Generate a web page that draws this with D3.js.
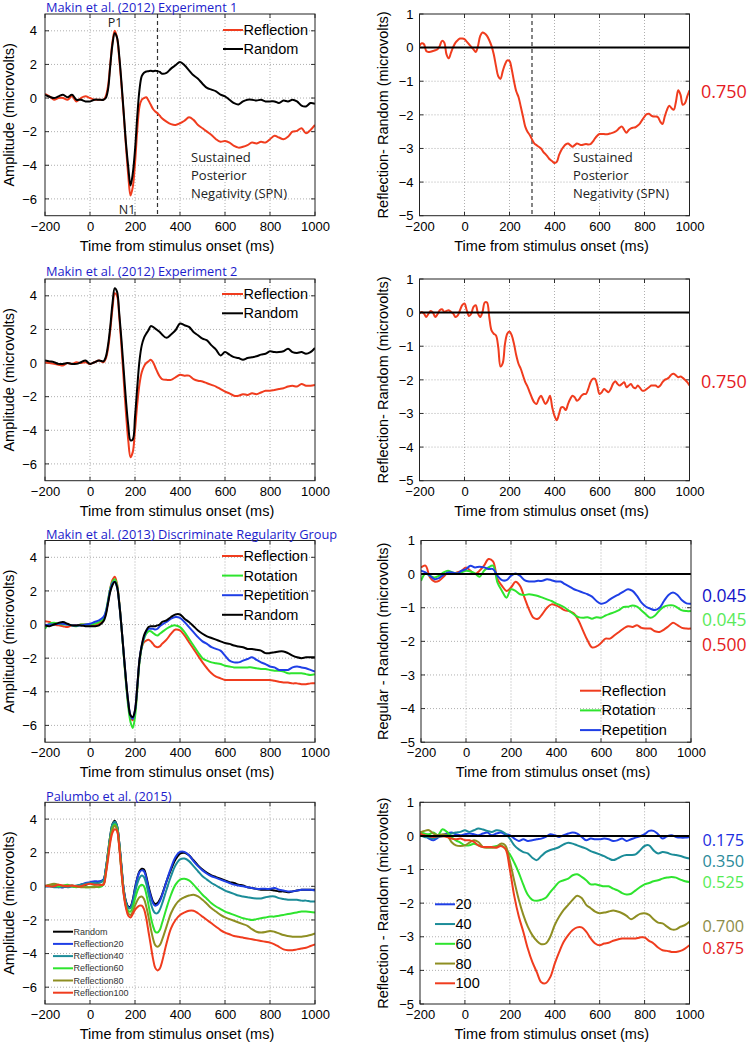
<!DOCTYPE html>
<html><head><meta charset="utf-8">
<script src="https://cdn.jsdelivr.net/npm/d3@7"></script>
<style>
body{margin:0;background:#fff;}
svg{display:block;}
</style></head>
<body>
<svg id="chart" width="752" height="1044"></svg>
<script>
// ---------- sample times (ms) ----------
const timeERP = [...d3.range(-200, 61, 20), ...d3.range(70, 321, 10), ...d3.range(340, 1001, 20)];
const timeFine = d3.range(-200, 1001, 10);
const timeCoarse = d3.range(-200, 1001, 20);

// ---------- tick values ----------
const xTicks = [-200, 0, 200, 400, 600, 800, 1000];
const yTicksAmp = [-6, -4, -2, 0, 2, 4];
const yTicksDiff = [-5, -4, -3, -2, -1, 0, 1];

// ---------- Makin et al. (2012) Experiment 1 ----------
const exp1Reflection = [
 0.25,0.1,-0.1,0,0,-0.1,0.1,-0.2,0,0.1,0,-0.1,-0.1,-0.1,
 0.1,0.7,2.0,3.35,4.0,3.6,2.35,0.75,-1.0,-2.9,-4.6,-5.8,-5.3,-3.9,-1.9,-0.5,-0.1,0,0.05,-0.15,-0.4,-0.65,-0.8,-0.9,-1.05,-1.2,
 -1.4,-1.55,-1.6,-1.5,-1.35,-1.15,-1.3,-1.6,-1.8,-2.0,-2.2,-2.45,-2.6,-2.55,-2.65,-2.85,-2.95,-2.9,-2.8,-2.65,-2.7,-2.6,-2.65,-2.45,-2.25,-2.35,-2.45,-2.3,-2.0,-1.95,-1.8,-2.1,-1.9,-1.6];
const exp1Random = [
 0.18,0.08,0,0.1,0.2,0.05,0.2,-0.1,-0.1,-0.2,-0.2,-0.1,-0.1,-0.1,
 0.0,0.5,1.9,3.2,3.85,3.6,2.5,0.9,-0.9,-2.7,-4.1,-5.2,-4.5,-3.1,-1.1,0.5,1.3,1.5,1.58,1.6,1.62,1.6,1.62,1.6,1.55,1.45,
 1.5,1.75,1.95,2.15,1.95,1.65,1.35,1.15,0.85,0.6,0.5,0.4,0.2,0.1,-0.1,-0.3,-0.38,-0.2,-0.1,-0.1,-0.15,-0.1,-0.2,-0.2,-0.2,-0.3,-0.15,-0.2,-0.1,-0.2,-0.45,-0.5,-0.3,-0.35];
const exp1Diff = [
 0.05,0.13,0.1,-0.1,-0.13,-0.12,-0.1,-0.08,-0.05,0.05,
 0.2,0.15,-0.2,-0.32,-0.15,0.02,0.15,0.22,0.27,0.27,
 0.25,0.18,0.1,0.02,-0.05,-0.13,0.05,0.35,0.45,0.42,
 0.35,0.22,0.05,-0.2,-0.55,-0.85,-0.93,-0.7,-0.5,-0.38,
 -0.4,-0.65,-1.0,-1.3,-1.47,-1.75,-2.05,-2.35,-2.5,-2.6,
 -2.73,-2.85,-2.9,-2.95,-3.0,-3.1,-3.17,-3.25,-3.33,-3.38,
 -3.43,-3.4,-3.2,-3.05,-2.95,-2.88,-2.85,-2.9,-2.95,-2.9,
 -2.85,-2.88,-2.9,-2.88,-2.87,-2.88,-2.87,-2.8,-2.7,-2.62,
 -2.57,-2.57,-2.57,-2.58,-2.57,-2.55,-2.53,-2.5,-2.45,-2.38,
 -2.35,-2.45,-2.53,-2.45,-2.4,-2.38,-2.37,-2.32,-2.25,-2.15,
 -2.05,-1.98,-1.97,-2.02,-2.05,-2.05,-2.07,-2.2,-2.27,-2.05,
 -1.85,-1.73,-1.8,-1.85,-1.6,-1.27,-1.4,-1.7,-1.65,-1.45,
 -1.27];

// ---------- Makin et al. (2012) Experiment 2 ----------
const exp2Reflection = [
 0.05,0,-0.05,-0.1,-0.15,0,-0.05,0.05,0,0.05,-0.05,0.05,0.15,0.05,
 0.25,0.85,1.95,3.25,4.15,4.0,2.75,0.95,-1.05,-3.0,-4.6,-5.6,-5.3,-4.0,-2.45,-1.25,-0.55,-0.2,0,0.1,0.2,0.05,-0.25,-0.55,-0.8,-0.95,
 -1.0,-1.0,-0.85,-0.7,-0.75,-0.75,-0.95,-1.05,-1.1,-1.2,-1.3,-1.4,-1.55,-1.7,-1.8,-1.95,-1.95,-1.85,-1.9,-1.8,-1.85,-1.75,-1.65,-1.65,-1.6,-1.55,-1.5,-1.4,-1.35,-1.4,-1.25,-1.35,-1.35,-1.3];
const exp2Random = [
 0.15,0.1,0.05,-0.05,-0.05,0,-0.05,-0.05,0.05,0.15,-0.05,0.05,0.15,0.1,
 0.35,1.05,2.15,3.55,4.45,4.25,2.95,1.35,-0.45,-2.25,-3.7,-4.6,-4.55,-3.2,-1.45,0.15,1.05,1.5,1.75,1.95,2.2,2.15,2.05,1.95,1.85,1.7,
 1.5,1.7,1.95,2.35,2.25,2.15,1.85,1.65,1.45,1.35,1.05,0.8,0.45,0.65,0.5,0.35,0.3,0.2,0.3,0.35,0.4,0.5,0.55,0.7,0.65,0.65,0.7,0.85,0.65,0.6,0.65,0.55,0.65,0.9];
const exp2Diff = [
 -0.03,0.02,-0.03,-0.13,-0.03,0.05,0,-0.13,-0.05,0.07,
 0.1,0.02,0.05,0.07,0.02,-0.03,-0.13,-0.08,0.07,0.22,
 0.27,0.07,-0.1,-0.03,0.17,0.22,-0.03,-0.13,0.02,0.3,
 0.3,-0.13,-0.53,-0.63,-0.68,-1.03,-1.6,-1.5,-0.93,-0.63,
 -0.56,-0.68,-0.93,-1.27,-1.52,-1.67,-1.87,-2.07,-2.2,-2.37,
 -2.54,-2.67,-2.72,-2.57,-2.47,-2.6,-2.72,-2.62,-2.47,-2.82,
 -3.07,-3.2,-3.02,-2.82,-2.82,-2.9,-2.72,-2.57,-2.47,-2.52,
 -2.62,-2.57,-2.47,-2.42,-2.42,-2.27,-2.07,-1.97,-1.97,-2.17,
 -2.42,-2.37,-2.27,-2.32,-2.37,-2.27,-2.12,-2.04,-2.12,-2.17,
 -2.12,-2.07,-2.22,-2.17,-2.12,-2.22,-2.25,-2.17,-2.24,-2.32,
 -2.32,-2.27,-2.22,-2.17,-2.17,-2.17,-2.22,-2.17,-2.07,-2.0,
 -1.97,-1.92,-1.84,-1.82,-1.87,-1.92,-1.9,-1.94,-2.0,-2.07,
 -2.17];

// ---------- Makin et al. (2013) Discriminate Regularity Group ----------
const m13Reflection = [
 0.2,0.15,0,-0.05,-0.1,-0.15,-0.05,-0.05,0,0,0,-0.05,0.05,0.3,
 0.65,1.35,2.15,2.65,2.85,2.45,1.35,-0.15,-1.75,-3.4,-4.7,-5.5,-5.7,-5.2,-3.8,-2.15,-1.35,-1.05,-0.95,-0.9,-1.0,-1.15,-1.3,-1.35,-1.3,-1.15,
 -0.9,-0.55,-0.3,-0.35,-0.65,-1.05,-1.45,-1.85,-2.25,-2.6,-2.9,-3.1,-3.2,-3.3,-3.3,-3.3,-3.3,-3.3,-3.3,-3.3,-3.3,-3.3,-3.3,-3.3,-3.35,-3.4,-3.45,-3.45,-3.5,-3.5,-3.55,-3.55,-3.5,-3.5];
const m13Rotation = [
 -0.25,0.05,0.1,0.05,0,0,-0.05,-0.1,0,0,0,0.05,0.15,0.35,
 0.75,1.45,2.15,2.55,2.7,2.35,1.3,-0.15,-1.85,-3.5,-4.9,-5.8,-6.15,-5.5,-3.9,-2.25,-1.35,-0.85,-0.55,-0.4,-0.4,-0.5,-0.6,-0.65,-0.55,-0.45,
 -0.25,-0.1,-0.05,-0.15,-0.45,-0.85,-1.25,-1.65,-2.0,-2.15,-2.25,-2.3,-2.35,-2.45,-2.5,-2.55,-2.55,-2.55,-2.55,-2.55,-2.6,-2.65,-2.65,-2.7,-2.75,-2.75,-2.8,-2.9,-2.9,-2.9,-2.9,-2.95,-3.0,-2.95];
const m13Repetition = [
 -0.05,0,0,0.05,0.05,0,-0.05,-0.05,-0.05,0,0.05,0.15,0.25,0.45,
 0.75,1.35,2.05,2.45,2.55,2.25,1.25,-0.15,-1.75,-3.3,-4.6,-5.4,-5.6,-5.1,-3.7,-2.1,-1.25,-0.75,-0.4,-0.25,-0.25,-0.25,-0.3,-0.25,-0.1,0,
 0.15,0.35,0.45,0.4,0.15,-0.15,-0.45,-0.75,-1.0,-1.15,-1.35,-1.45,-1.55,-1.85,-2.15,-2.25,-2.25,-2.15,-2.05,-1.95,-2.1,-2.25,-2.35,-2.5,-2.55,-2.7,-2.7,-2.7,-2.55,-2.5,-2.55,-2.6,-2.7,-2.8];
const m13Random = [
 -0.05,-0.1,0,0.1,0.15,0.05,-0.05,-0.05,-0.05,-0.1,-0.1,-0.1,-0.05,0.2,
 0.55,1.25,1.95,2.35,2.55,2.25,1.25,-0.15,-1.75,-3.3,-4.6,-5.4,-5.5,-5.1,-3.7,-2.1,-1.25,-0.65,-0.35,-0.15,-0.1,-0.1,-0.1,-0.05,0,0.15,
 0.25,0.45,0.6,0.6,0.35,0.15,-0.1,-0.35,-0.55,-0.7,-0.8,-0.9,-1.0,-1.1,-1.15,-1.25,-1.3,-1.35,-1.45,-1.45,-1.5,-1.55,-1.7,-1.7,-1.65,-1.6,-1.6,-1.7,-1.85,-1.95,-2.0,-1.95,-1.95,-1.95];
const m13DiffReflection = [
 0.2,0.25,-0.1,-0.22,-0.2,-0.08,0.05,0,0.05,0.1,
 0.2,0.1,0,0.1,0.25,0.45,0.38,-0.15,-0.35,-0.5,
 -0.4,-0.23,-0.35,-0.7,-1.05,-1.3,-1.33,-1.18,-1.0,-0.9,
 -0.93,-1.0,-1.08,-1.1,-1.17,-1.38,-1.68,-1.97,-2.18,-2.15,
 -2.05,-1.92,-1.92,-1.82,-1.72,-1.62,-1.55,-1.57,-1.52,-1.6,
 -1.62,-1.62,-1.7,-1.72,-1.65,-1.55,-1.45,-1.52,-1.6,-1.62,
 -1.62];
const m13DiffRotation = [
 -0.2,0.02,-0.05,-0.1,-0.05,0.05,0.1,0.05,0.02,0.05,
 0.1,0.08,0.02,-0.08,0.1,0.2,0.25,-0.25,-0.5,-0.7,
 -0.45,-0.5,-0.6,-0.62,-0.6,-0.62,-0.65,-0.7,-0.75,-0.8,
 -0.87,-0.93,-1.0,-1.1,-1.2,-1.28,-1.3,-1.28,-1.33,-1.28,
 -1.3,-1.23,-1.18,-1.13,-1.07,-0.98,-0.97,-0.93,-0.97,-1.08,
 -1.2,-1.3,-1.23,-1.08,-0.97,-0.93,-0.93,-1.0,-1.08,-1.1,
 -1.1];
const m13DiffRepetition = [
 0.1,0.05,-0.05,-0.15,-0.12,-0.02,0.05,0.05,0.02,0.1,
 0.15,0.25,0.2,0.22,0.2,0.15,0.15,-0.05,-0.18,-0.18,
 -0.05,0.02,-0.05,-0.18,-0.22,-0.22,-0.2,-0.2,-0.15,-0.18,
 -0.22,-0.22,-0.3,-0.37,-0.45,-0.5,-0.55,-0.6,-0.67,-0.8,
 -0.88,-0.85,-0.75,-0.67,-0.6,-0.52,-0.45,-0.5,-0.65,-0.85,
 -0.97,-1.03,-1.07,-1.0,-0.8,-0.62,-0.55,-0.62,-0.78,-0.87,
 -0.88];

// ---------- Palumbo et al. (2015) ----------
const palRandom = [
 0,0.05,0.05,0,-0.05,0,0,0,0.1,0.1,0.2,0.25,0.25,0.4,
 1.0,2.0,3.0,3.7,3.9,3.6,2.6,1.2,-0.2,-0.9,-1.2,-1.2,-0.8,-0.1,0.5,0.9,1.05,1.0,0.6,0.0,-0.5,-0.9,-1.05,-1.0,-0.8,-0.5,
 0.3,1.0,1.6,1.95,2.0,1.85,1.55,1.25,1.0,0.8,0.65,0.55,0.45,0.35,0.25,0.2,0.1,0.05,-0.05,-0.1,-0.15,-0.2,-0.2,-0.2,-0.25,-0.3,-0.3,-0.35,-0.3,-0.25,-0.2,-0.2,-0.2,-0.2];
const palRefl20 = [
 0,0,0.05,-0.05,-0.05,0,0.05,0,0.1,0.2,0.25,0.3,0.3,0.4,
 1.0,1.9,2.9,3.6,3.8,3.55,2.5,1.1,-0.2,-0.95,-1.25,-1.25,-0.85,-0.15,0.45,0.85,0.95,0.9,0.5,-0.1,-0.6,-1.0,-1.15,-1.1,-0.9,-0.55,
 0.3,1.1,1.75,2.05,2.05,1.85,1.5,1.2,0.95,0.75,0.6,0.5,0.4,0.3,0.2,0.1,0.05,0,-0.05,-0.1,-0.15,-0.15,-0.15,-0.15,-0.1,-0.2,-0.25,-0.3,-0.3,-0.25,-0.2,-0.2,-0.2,-0.25];
const palRefl40 = [
 0,0,-0.05,-0.05,0,-0.05,0,0.05,0.1,0.15,0.2,0.2,0.2,0.35,
 1.0,2.0,3.0,3.7,3.85,3.6,2.6,1.1,-0.3,-1.0,-1.3,-1.3,-1.0,-0.4,0.15,0.5,0.65,0.55,0.15,-0.45,-1.0,-1.4,-1.6,-1.6,-1.4,-1.05,
 -0.2,0.6,1.25,1.6,1.65,1.5,1.2,0.9,0.6,0.4,0.2,0.05,-0.1,-0.25,-0.35,-0.45,-0.55,-0.6,-0.65,-0.7,-0.72,-0.72,-0.65,-0.6,-0.6,-0.7,-0.75,-0.8,-0.8,-0.8,-0.85,-0.85,-0.9,-0.9];
const palRefl60 = [
 0,0.05,0.1,0,0.05,0.1,0,-0.05,0,-0.05,-0.05,0,-0.05,0.1,
 0.8,1.8,2.8,3.5,3.7,3.45,2.4,0.9,-0.4,-1.15,-1.45,-1.5,-1.25,-0.75,-0.3,0.0,0.1,0.0,-0.45,-1.1,-1.8,-2.35,-2.7,-2.75,-2.6,-2.2,
 -1.3,-0.5,0.1,0.4,0.45,0.35,0.1,-0.2,-0.5,-0.75,-1.0,-1.2,-1.35,-1.5,-1.6,-1.7,-1.8,-1.9,-1.95,-2.0,-1.95,-1.9,-1.85,-1.8,-1.8,-1.75,-1.7,-1.65,-1.6,-1.55,-1.5,-1.5,-1.52,-1.55];
const palRefl80 = [
 0,0.1,0.15,0.1,0,0.05,0.05,0,-0.05,-0.05,-0.05,-0.05,0,0.15,
 0.8,1.8,2.8,3.4,3.6,3.4,2.4,0.9,-0.4,-1.2,-1.6,-1.7,-1.5,-1.15,-0.85,-0.65,-0.6,-0.75,-1.2,-1.8,-2.5,-3.1,-3.5,-3.6,-3.5,-3.2,
 -2.4,-1.6,-1.1,-0.8,-0.65,-0.55,-0.5,-0.6,-0.8,-1.05,-1.3,-1.5,-1.7,-1.85,-1.95,-2.05,-2.15,-2.25,-2.35,-2.55,-2.7,-2.75,-2.72,-2.65,-2.7,-2.8,-2.9,-2.95,-3.0,-3.0,-3.0,-2.95,-2.9,-2.8];
const palRefl100 = [
 0.05,0,0,0.1,0.05,0,0.05,0,0,0.1,0.15,0.1,0.1,0.1,
 0.7,1.6,2.6,3.2,3.4,3.3,2.3,0.8,-0.5,-1.3,-1.75,-1.85,-1.65,-1.4,-1.25,-1.15,-1.15,-1.35,-1.9,-2.7,-3.5,-4.3,-4.85,-5.0,-4.9,-4.5,
 -3.4,-2.5,-2.0,-1.7,-1.55,-1.45,-1.45,-1.6,-1.8,-2.0,-2.2,-2.4,-2.6,-2.75,-2.85,-2.95,-3.0,-3.05,-3.1,-3.15,-3.2,-3.25,-3.3,-3.35,-3.45,-3.6,-3.75,-3.8,-3.8,-3.75,-3.7,-3.65,-3.55,-3.45];
const palDiff20 = [
 0.07,0.02,-0.08,-0.13,-0.05,0.02,0.07,0.1,0.05,0.02,
 0.05,0.07,0.05,0.02,0.07,0.1,0.02,0.07,0.1,0.05,
 0.02,-0.08,-0.15,-0.1,-0.15,-0.13,-0.1,-0.08,-0.03,0.05,
 0.02,-0.03,0.02,0.07,0.1,0.07,-0.03,-0.13,-0.08,-0.1,
 -0.1,-0.08,-0.1,-0.15,-0.13,-0.08,-0.15,-0.1,-0.05,-0.01,
 0.05,0.15,0.15,0.05,-0.08,-0.01,0.02,-0.03,-0.05,-0.05,
 -0.03];
const palDiff40 = [
 0.02,-0.03,-0.05,-0.08,-0.03,-0.01,0.02,0.07,0.1,0.12,
 0.17,0.12,0.17,0.22,0.19,0.15,0.12,0.17,0.15,0.07,
 -0.08,-0.28,-0.4,-0.48,-0.52,-0.65,-0.72,-0.6,-0.48,-0.42,
 -0.38,-0.33,-0.25,-0.2,-0.23,-0.28,-0.33,-0.38,-0.45,-0.5,
 -0.55,-0.6,-0.67,-0.72,-0.67,-0.6,-0.57,-0.57,-0.55,-0.43,
 -0.3,-0.28,-0.43,-0.52,-0.48,-0.5,-0.55,-0.57,-0.6,-0.64,
 -0.67];
const palDiff60 = [
 0.12,0.07,0.05,0.1,0.02,0.2,0.12,-0.03,-0.13,-0.2,
 -0.28,-0.28,-0.23,-0.28,-0.33,-0.33,-0.33,-0.3,-0.28,-0.38,
 -0.55,-0.8,-1.1,-1.45,-1.75,-1.9,-1.93,-1.9,-1.84,-1.67,
 -1.52,-1.37,-1.32,-1.27,-1.17,-1.14,-1.22,-1.32,-1.44,-1.44,
 -1.47,-1.5,-1.5,-1.57,-1.62,-1.7,-1.74,-1.72,-1.62,-1.52,
 -1.44,-1.4,-1.35,-1.32,-1.27,-1.24,-1.22,-1.24,-1.3,-1.35,
 -1.37];
const palDiff80 = [
 0.1,0.15,0.17,0.07,0.02,0.05,0.02,-0.18,-0.28,-0.3,
 -0.28,-0.2,-0.13,-0.18,-0.33,-0.35,-0.35,-0.33,-0.23,-0.28,
 -0.75,-1.35,-1.9,-2.35,-2.7,-2.95,-3.12,-3.22,-3.2,-3.0,
 -2.65,-2.4,-2.2,-2.05,-1.9,-1.78,-1.85,-2.05,-2.15,-2.25,
 -2.3,-2.28,-2.25,-2.22,-2.25,-2.3,-2.38,-2.48,-2.4,-2.32,
 -2.3,-2.35,-2.48,-2.58,-2.6,-2.7,-2.78,-2.78,-2.7,-2.65,
 -2.55];
const palDiff100 = [
 0.07,0.02,-0.01,-0.03,-0.01,-0.01,-0.03,-0.08,-0.1,-0.08,
 -0.13,-0.13,-0.18,-0.28,-0.33,-0.33,-0.33,-0.35,-0.3,-0.38,
 -1.0,-1.8,-2.4,-2.85,-3.35,-3.75,-4.05,-4.35,-4.38,-4.2,
 -3.8,-3.45,-3.15,-2.95,-2.8,-2.72,-2.72,-2.85,-3.05,-3.2,
 -3.25,-3.2,-3.18,-3.12,-3.08,-3.05,-3.05,-3.05,-3.05,-3.02,
 -3.02,-3.12,-3.2,-3.32,-3.4,-3.42,-3.45,-3.45,-3.42,-3.35,
 -3.25];

// ---------- labels ----------
const titles = ["Makin et al. (2012) Experiment 1", "Makin et al. (2012) Experiment 2",
                "Makin et al. (2013) Discriminate Regularity Group", "Palumbo et al. (2015)"];
const m13Names = ["Reflection", "Rotation", "Repetition", "Random"];
const palNames = ["Random", "Reflection20", "Reflection40", "Reflection60", "Reflection80", "Reflection100"];
const palDiffNames = ["20", "40", "60", "80", "100"];
const exp1Effect = ["0.750"];
const exp2Effect = ["0.750"];
const m13Effects = ["0.045", "0.045", "0.500"];
const palEffects = ["0.175", "0.350", "0.525", "0.700", "0.875"];
const spnLines = ["Sustained", "Posterior", "Negativity (SPN)"];

// ---------- styles ----------
const RED = "#f03c1e", BLACK = "#000", GREEN = "#2ee42e", BLUE = "#1f3fe6",
      TEAL = "#1b8c98", OLIVE = "#8e8e22";
const FONT = "'Liberation Sans', Arial, sans-serif";
const FONT2 = "'Open Sans', 'Noto Sans', sans-serif";
const fmt = d3.format("d");

const svg = d3.select("#chart");
svg.append("rect").attr("width", 752).attr("height", 1044).attr("fill", "#fff");

let clipId = 0;
function panel(o) {
  const x = d3.scaleLinear().domain([-200, 1000]).range([o.left, o.right]);
  const y = d3.scaleLinear().domain(o.yDomain).range([o.bottom, o.top]);
  const g = svg.append("g");
  // grid
  g.selectAll(null).data(xTicks.slice(1, -1)).join("line")
    .attr("x1", d => x(d)).attr("x2", d => x(d)).attr("y1", o.top).attr("y2", o.bottom)
    .attr("stroke", "#9a9a9a").attr("stroke-width", 0.8).attr("stroke-dasharray", "1,2");
  g.selectAll(null).data(o.yTicks.filter(v => v > o.yDomain[0] && v < o.yDomain[1])).join("line")
    .attr("x1", o.left).attr("x2", o.right).attr("y1", d => y(d)).attr("y2", d => y(d))
    .attr("stroke", "#9a9a9a").attr("stroke-width", 0.8).attr("stroke-dasharray", "1,2");

  // axes (labels)
  const xa = g.append("g").attr("transform", `translate(0,${o.bottom})`)
    .call(d3.axisBottom(x).tickValues(xTicks).tickFormat(fmt).tickSize(0).tickPadding(6));
  xa.select(".domain").remove();
  xa.selectAll("text").attr("font-family", FONT).attr("font-size", 13).attr("fill", "#000")
    .attr("dy", "0.71em");
  const ya = g.append("g").attr("transform", `translate(${o.left},0)`)
    .call(d3.axisLeft(y).tickValues(o.yTicks).tickFormat(fmt).tickSize(0).tickPadding(o.ytPad));
  ya.select(".domain").remove();
  ya.selectAll("text").attr("font-family", FONT).attr("font-size", 13).attr("fill", "#000");

  // inner tick marks on all sides
  const tk = 4;
  g.selectAll(null).data(xTicks).join("line")
    .attr("x1", d => x(d)).attr("x2", d => x(d)).attr("y1", o.bottom).attr("y2", o.bottom - tk)
    .attr("stroke", "#000").attr("stroke-width", 0.8);
  g.selectAll(null).data(xTicks).join("line")
    .attr("x1", d => x(d)).attr("x2", d => x(d)).attr("y1", o.top).attr("y2", o.top + tk)
    .attr("stroke", "#000").attr("stroke-width", 0.8);
  g.selectAll(null).data(o.yTicks).join("line")
    .attr("x1", o.left).attr("x2", o.left + tk).attr("y1", d => y(d)).attr("y2", d => y(d))
    .attr("stroke", "#000").attr("stroke-width", 0.8);
  g.selectAll(null).data(o.yTicks).join("line")
    .attr("x1", o.right).attr("x2", o.right - tk).attr("y1", d => y(d)).attr("y2", d => y(d))
    .attr("stroke", "#000").attr("stroke-width", 0.8);

  // clip
  const cid = "clip" + (clipId++);
  svg.append("clipPath").attr("id", cid).append("rect")
    .attr("x", o.left).attr("y", o.top).attr("width", o.right - o.left).attr("height", o.bottom - o.top);
  const plot = g.append("g").attr("clip-path", `url(#${cid})`);

  if (o.dashed != null) {
    plot.append("line").attr("x1", x(o.dashed)).attr("x2", x(o.dashed))
      .attr("y1", o.top).attr("y2", o.bottom)
      .attr("stroke", "#333").attr("stroke-width", 1.2).attr("stroke-dasharray", "4,3");
  }

  o.series.forEach(s => {
    const line = d3.line()
      .x((d, i) => x(s.t[i])).y(d => y(d))
      .curve(d3.curveCatmullRom.alpha(0.5));
    plot.append("path").attr("d", line(s.v)).attr("fill", "none")
      .attr("stroke", s.c).attr("stroke-width", 2).attr("stroke-linejoin", "round");
  });

  if (o.zeroLine) {
    plot.append("line").attr("x1", o.left).attr("x2", o.right)
      .attr("y1", y(0)).attr("y2", y(0)).attr("stroke", "#000").attr("stroke-width", 2);
  }

  // box
  g.append("rect").attr("x", o.left).attr("y", o.top)
    .attr("width", o.right - o.left).attr("height", o.bottom - o.top)
    .attr("fill", "none").attr("stroke", "#222").attr("stroke-width", 1);

  // axis titles
  g.append("text").attr("x", (o.left + o.right) / 2 - 3).attr("y", o.bottom + 35)
    .attr("text-anchor", "middle").attr("font-family", FONT).attr("font-size", 14.5)
    .text("Time from stimulus onset (ms)");
  g.append("text")
    .attr("transform", `translate(${o.ylabX},${(o.top + o.bottom) / 2}) rotate(-90)`)
    .attr("text-anchor", "middle").attr("dominant-baseline", "central")
    .attr("font-family", FONT).attr("font-size", 14.5).text(o.ylab);

  if (o.title) {
    g.append("text").attr("x", o.left + 1).attr("y", o.titleY)
      .attr("font-family", FONT2).attr("font-size", 12.8).attr("fill", "#1c1ccc").text(o.title);
  }

  // legend
  if (o.legend) {
    const L = o.legend;
    L.items.forEach((it, i) => {
      const yy = L.y0 + i * L.dy;
      g.append("line").attr("x1", L.x0).attr("x2", L.x1).attr("y1", yy).attr("y2", yy)
        .attr("stroke", it.c).attr("stroke-width", 2);
      g.append("text").attr("x", L.x1 + 0.5).attr("y", yy).attr("dominant-baseline", "central")
        .attr("font-family", FONT).attr("font-size", L.fs).attr("fill", L.tc || "#000").text(it.n);
    });
  }
  return {x, y, g};
}

const rowTop = [14, 279, 540.5, 802.3];
const rowH = 201.7;
const titleY = [11.5, 276, 538.5, 800.5];
const LX = [45, 315];
const RX = [[419.5, 689.5], [419.5, 689.5], [421, 691], [420, 689.5]];

// Row 1 left
let p = panel({left: LX[0], right: LX[1], top: rowTop[0], bottom: rowTop[0] + rowH,
  yDomain: [-7, 5], yTicks: yTicksAmp, ytPad: 8, ylabX: 8.5, ylab: "Amplitude (microvolts)",
  title: titles[0], titleY: titleY[0], dashed: 300,
  series: [{t: timeERP, v: exp1Reflection, c: RED}, {t: timeERP, v: exp1Random, c: BLACK}],
  legend: {x0: 223, x1: 243, y0: 30, dy: 19, fs: 14.5,
    items: [{n: "Reflection", c: RED}, {n: "Random", c: BLACK}]}});
p.g.append("text").attr("x", 115).attr("y", 26.5).attr("text-anchor", "middle")
  .attr("font-family", FONT2).attr("font-size", 12.5).attr("fill", "#222").text("P1");
p.g.append("text").attr("x", 127).attr("y", 213.5).attr("text-anchor", "middle")
  .attr("font-family", FONT2).attr("font-size", 12.5).attr("fill", "#222").text("N1");
spnLines.forEach((s, i) => p.g.append("text").attr("x", 191).attr("y", 161.5 + i * 18)
  .attr("font-family", FONT2).attr("font-size", 13).attr("fill", "#222").text(s));

// Row 1 right
p = panel({left: RX[0][0], right: RX[0][1], top: rowTop[0], bottom: rowTop[0] + rowH,
  yDomain: [-5, 1], yTicks: yTicksDiff, ytPad: 6, ylabX: 383, ylab: "Reflection- Random (microvolts)",
  dashed: 300, zeroLine: true,
  series: [{t: timeFine, v: exp1Diff, c: RED}]});
spnLines.forEach((s, i) => p.g.append("text").attr("x", 573).attr("y", 161.5 + i * 18)
  .attr("font-family", FONT2).attr("font-size", 13).attr("fill", "#222").text(s));
p.g.selectAll(null).data(exp1Effect).join("text").attr("x", 701).attr("y", 98)
  .attr("font-family", FONT2).attr("font-size", 18).attr("fill", "#e51a24").text(d => d);

// Row 2 left
panel({left: LX[0], right: LX[1], top: rowTop[1], bottom: rowTop[1] + rowH,
  yDomain: [-7, 5], yTicks: yTicksAmp, ytPad: 8, ylabX: 8.5, ylab: "Amplitude (microvolts)",
  title: titles[1], titleY: titleY[1],
  series: [{t: timeERP, v: exp2Reflection, c: RED}, {t: timeERP, v: exp2Random, c: BLACK}],
  legend: {x0: 222, x1: 243, y0: 294, dy: 19.3, fs: 14.5,
    items: [{n: "Reflection", c: RED}, {n: "Random", c: BLACK}]}});

// Row 2 right
p = panel({left: RX[1][0], right: RX[1][1], top: rowTop[1], bottom: rowTop[1] + rowH,
  yDomain: [-5, 1], yTicks: yTicksDiff, ytPad: 6, ylabX: 383, ylab: "Reflection- Random (microvolts)",
  zeroLine: true,
  series: [{t: timeFine, v: exp2Diff, c: RED}]});
p.g.selectAll(null).data(exp2Effect).join("text").attr("x", 701).attr("y", 388)
  .attr("font-family", FONT2).attr("font-size", 18).attr("fill", "#e51a24").text(d => d);

// Row 3 left
const m13Colors = [RED, GREEN, BLUE, BLACK];
panel({left: LX[0], right: LX[1], top: rowTop[2], bottom: rowTop[2] + rowH,
  yDomain: [-7, 5], yTicks: yTicksAmp, ytPad: 8, ylabX: 8.5, ylab: "Amplitude (microvolts)",
  title: titles[2], titleY: titleY[2],
  series: [m13Reflection, m13Rotation, m13Repetition, m13Random].map((v, i) => ({t: timeERP, v, c: m13Colors[i]})),
  legend: {x0: 222, x1: 243, y0: 556, dy: 19.6, fs: 14.5,
    items: m13Names.map((n, i) => ({n, c: m13Colors[i]}))}});

// Row 3 right
p = panel({left: RX[2][0], right: RX[2][1], top: rowTop[2], bottom: rowTop[2] + rowH,
  yDomain: [-5, 1], yTicks: yTicksDiff, ytPad: 6, ylabX: 383, ylab: "Regular - Random (microvolts)",
  zeroLine: true,
  series: [m13DiffReflection, m13DiffRotation, m13DiffRepetition].map((v, i) => ({t: timeCoarse, v, c: m13Colors[i]})),
  legend: {x0: 580, x1: 601, y0: 690.7, dy: 19.7, fs: 14.5,
    items: m13Names.slice(0, 3).map((n, i) => ({n, c: m13Colors[i]}))}});
const m13EffColors = ["#1414c8", "#5aea5a", "#e41c1c"];
const m13EffY = [602, 626, 650.5];
p.g.selectAll(null).data(m13Effects).join("text").attr("x", 702).attr("y", (d, i) => m13EffY[i])
  .attr("font-family", FONT2).attr("font-size", 17.5).attr("fill", (d, i) => m13EffColors[i]).text(d => d);

// Row 4 left
const palColors = [BLACK, BLUE, TEAL, GREEN, OLIVE, RED];
panel({left: LX[0], right: LX[1], top: rowTop[3], bottom: rowTop[3] + rowH,
  yDomain: [-7, 5], yTicks: yTicksAmp, ytPad: 8, ylabX: 8.5, ylab: "Amplitude (microvolts)",
  title: titles[3], titleY: titleY[3],
  series: [palRandom, palRefl20, palRefl40, palRefl60, palRefl80, palRefl100].map((v, i) => ({t: timeERP, v, c: palColors[i]})),
  legend: {x0: 53, x1: 73, y0: 931.7, dy: 12.2, fs: 9, tc: "#333",
    items: palNames.map((n, i) => ({n, c: palColors[i]}))}});

// Row 4 right
const palDColors = [BLUE, TEAL, GREEN, OLIVE, RED];
p = panel({left: RX[3][0], right: RX[3][1], top: rowTop[3], bottom: rowTop[3] + rowH,
  yDomain: [-5, 1], yTicks: yTicksDiff, ytPad: 6, ylabX: 383, ylab: "Reflection - Random (microvolts)",
  zeroLine: true,
  series: [palDiff20, palDiff40, palDiff60, palDiff80, palDiff100].map((v, i) => ({t: timeCoarse, v, c: palDColors[i]})),
  legend: {x0: 435, x1: 455, y0: 904.3, dy: 19.75, fs: 14.5,
    items: palDiffNames.map((n, i) => ({n, c: palDColors[i]}))}});
const palEffColors = ["#1c2ee0", "#2a8a9a", "#55ec55", "#8c8c48", "#e41c22"];
const palEffY = [846, 866.5, 887.5, 931.5, 953.5];
p.g.selectAll(null).data(palEffects).join("text").attr("x", 702.5).attr("y", (d, i) => palEffY[i])
  .attr("font-family", FONT2).attr("font-size", 16.3).attr("fill", (d, i) => palEffColors[i]).text(d => d);
</script>
</body></html>
